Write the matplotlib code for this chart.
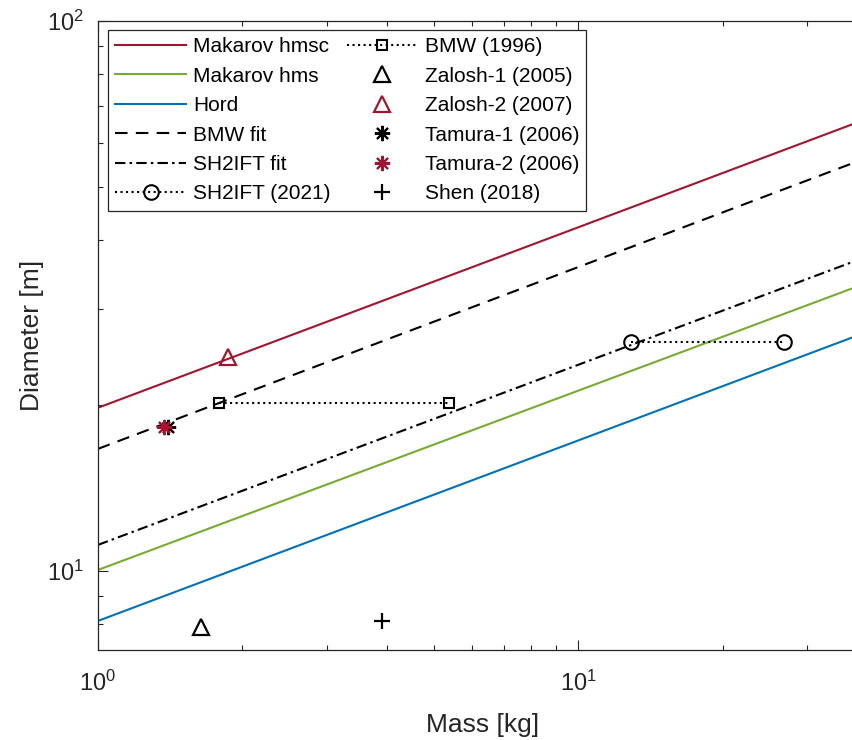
import matplotlib
matplotlib.use("Agg")
import matplotlib.pyplot as plt

plt.rcParams['font.family'] = ['Liberation Sans', 'DejaVu Sans']
plt.rcParams['mathtext.fontset'] = 'custom'
plt.rcParams['mathtext.rm'] = 'Liberation Sans'
plt.rcParams['mathtext.default'] = 'regular'

# correlation lines, read at mass = 1 and 40 kg
line_mass = [1, 40]
hmsc_d = [19.8, 66.4]
hms_d = [10.04, 33.4]
hord_d = [8.11, 27.2]
bmw_fit_d = [16.67, 56.4]
sh2ift_fit_d = [11.15, 37.3]

# experiments
bmw_mass = [1.79, 5.39]
bmw_d = [20.2, 20.2]
sh2ift_mass = [12.9, 26.9]
sh2ift_d = [26.1, 26.1]
zalosh1_mass, zalosh1_d = [1.64], [7.92]
zalosh2_mass, zalosh2_d = [1.866], [24.5]
tamura1_mass, tamura1_d = [1.40], [18.28]
tamura2_mass, tamura2_d = [1.375], [18.28]
shen_mass, shen_d = [3.91], [8.11]

red = '#A2142F'
green = '#77AC30'
blue = '#0072BD'

fig = plt.figure(figsize=(8.53, 7.4), dpi=100)
ax = fig.add_axes([98 / 853, 1 - 650 / 740, 769 / 853, 629 / 740])

lw = 1.5
h = []
h += ax.plot(line_mass, hmsc_d, color=red, lw=lw, label='Makarov hmsc')
h += ax.plot(line_mass, hms_d, color=green, lw=lw, label='Makarov hms')
h += ax.plot(line_mass, hord_d, color=blue, lw=lw, label='Hord')
h += ax.plot(line_mass, bmw_fit_d, color='k', lw=lw, ls=(0, (6, 4)), label='BMW fit')
h += ax.plot(line_mass, sh2ift_fit_d, color='k', lw=lw, ls=(0, (5, 2, 1.2, 2)),
             label='SH2IFT fit')
h += ax.plot(sh2ift_mass, sh2ift_d, color='k', lw=lw, ls=':', marker='o', ms=10.5,
             mfc='none', mew=1.5, label='SH2IFT (2021)')
h += ax.plot(bmw_mass, bmw_d, color='k', lw=lw, ls=':', marker='s', ms=7,
             mfc='none', mew=1.5, label='BMW (1996)')
h += ax.plot(zalosh1_mass, zalosh1_d, color='k', ls='none', marker='^', ms=12,
             mfc='none', mew=1.6, label='Zalosh-1 (2005)')
h += ax.plot(zalosh2_mass, zalosh2_d, color=red, ls='none', marker='^', ms=12,
             mfc='none', mew=1.6, label='Zalosh-2 (2007)')
h += ax.plot(tamura1_mass, tamura1_d, color='k', ls='none', marker=(8, 2, 0), ms=11,
             mew=1.5, label='Tamura-1 (2006)')
h += ax.plot(tamura2_mass, tamura2_d, color=red, ls='none', marker=(8, 2, 0), ms=11,
             mew=1.5, label='Tamura-2 (2006)')
h += ax.plot(shen_mass, shen_d, color='k', ls='none', marker='+', ms=11,
             mew=1.6, label='Shen (2018)')

ax.set_xscale('log')
ax.set_yscale('log')
ax.set_xlim(1, 40)
ax.set_ylim(7.18, 100)

ax.tick_params(which='both', direction='in', top=True, right=True,
               colors='#262626', labelcolor='#262626')
ax.tick_params(which='major', length=7, width=0.8, labelsize=17)
ax.tick_params(axis='x', which='major', pad=15)
ax.tick_params(axis='y', which='major', pad=10)
ax.tick_params(which='minor', length=3.5, width=0.8)
for s in ax.spines.values():
    s.set_color('#262626')
    s.set_linewidth(0.9)

ax.set_xlabel('Mass [kg]', fontsize=19, color='#262626', labelpad=12)
ax.set_ylabel('Diameter [m]', fontsize=19, color='#262626', labelpad=2)

leg = ax.legend(handles=h, ncol=2, loc='upper left',
                bbox_to_anchor=(108 / 853, 1 - 30 / 740),
                bbox_transform=fig.transFigure, fontsize=15,
                handlelength=3.4, handletextpad=0.35, columnspacing=0.75,
                labelspacing=0.5, borderpad=0.35, borderaxespad=0,
                numpoints=1, fancybox=False, framealpha=1, edgecolor='#262626')
leg.get_frame().set_linewidth(0.9)

fig.savefig('out.png', dpi=100)
